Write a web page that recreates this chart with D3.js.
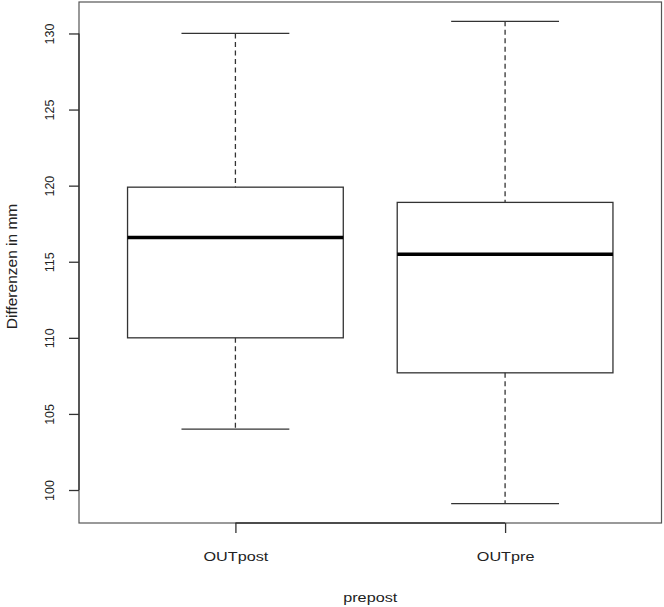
<!DOCTYPE html>
<html>
<head>
<meta charset="utf-8">
<script src="https://cdn.jsdelivr.net/npm/d3@7"></script>
<style>
  body { margin: 0; background: #fff; }
  text { font-family: "Liberation Sans", Arial, sans-serif; fill: #222; }
</style>
</head>
<body>
<div id="chart"></div>
<script>
// boxplot stats
const groups = ['OUTpost', 'OUTpre'];
const lowerWhisker = [104.0, 99.1];
const q1 = [110.0, 107.7];
const median = [116.6, 115.5];
const q3 = [119.9, 118.9];
const upperWhisker = [130.0, 130.8];
const yTicks = [100, 105, 110, 115, 120, 125, 130];

const W = 664, H = 607;
const frame = { left: 79, right: 661.5, top: 2, bottom: 523 };

// R style: 4% extension of the data range
const lo = d3.min(lowerWhisker), hi = d3.max(upperWhisker);
const ext = (hi - lo) * 0.04;

const y = d3.scaleLinear()
  .domain([lo - ext, hi + ext])
  .range([frame.bottom, frame.top]);

const x = d3.scaleLinear()
  .domain([0.5 - 0.08, groups.length + 0.5 + 0.08])
  .range([frame.left, frame.right]);

const svg = d3.select('#chart').append('svg')
  .attr('width', W)
  .attr('height', H);

const stroke = '#333';

// plot frame
svg.append('rect')
  .attr('x', frame.left)
  .attr('y', frame.top)
  .attr('width', frame.right - frame.left)
  .attr('height', frame.bottom - frame.top)
  .attr('fill', 'none')
  .attr('stroke', '#555')
  .attr('stroke-width', 1.2);

// boxes
const boxes = svg.selectAll('.box')
  .data(groups)
  .enter()
  .append('g')
  .attr('class', 'box');

const cx = (d, i) => x(i + 1);
const bw = x(1.4) - x(1);   // half box width
const cw = x(1.2) - x(1);   // half cap width

boxes.append('line')
  .attr('x1', cx).attr('x2', cx)
  .attr('y1', (d, i) => y(upperWhisker[i]))
  .attr('y2', (d, i) => y(q3[i]))
  .attr('stroke', stroke).attr('stroke-width', 1.3)
  .attr('stroke-dasharray', '5,3.5');

boxes.append('line')
  .attr('x1', cx).attr('x2', cx)
  .attr('y1', (d, i) => y(q1[i]))
  .attr('y2', (d, i) => y(lowerWhisker[i]))
  .attr('stroke', stroke).attr('stroke-width', 1.3)
  .attr('stroke-dasharray', '5,3.5');

[upperWhisker, lowerWhisker].forEach(arr => {
  boxes.append('line')
    .attr('x1', (d, i) => cx(d, i) - cw)
    .attr('x2', (d, i) => cx(d, i) + cw)
    .attr('y1', (d, i) => y(arr[i]))
    .attr('y2', (d, i) => y(arr[i]))
    .attr('stroke', stroke).attr('stroke-width', 1.3);
});

boxes.append('rect')
  .attr('x', (d, i) => cx(d, i) - bw)
  .attr('y', (d, i) => y(q3[i]))
  .attr('width', bw * 2)
  .attr('height', (d, i) => y(q1[i]) - y(q3[i]))
  .attr('fill', 'none')
  .attr('stroke', stroke)
  .attr('stroke-width', 1.3);

boxes.append('line')
  .attr('x1', (d, i) => cx(d, i) - bw)
  .attr('x2', (d, i) => cx(d, i) + bw)
  .attr('y1', (d, i) => y(median[i]))
  .attr('y2', (d, i) => y(median[i]))
  .attr('stroke', '#000')
  .attr('stroke-width', 3.5);

// y axis
const yAxis = svg.append('g')
  .attr('transform', `translate(${frame.left},0)`)
  .call(d3.axisLeft(y).tickValues(yTicks).tickSize(10).tickPadding(16).tickSizeOuter(0));
yAxis.select('.domain')
  .attr('d', `M0,${y(yTicks[0])}V${y(yTicks[yTicks.length - 1])}`)
  .attr('stroke', stroke).attr('stroke-width', 1.3);
yAxis.selectAll('.tick line').attr('stroke', stroke).attr('stroke-width', 1.3);
yAxis.selectAll('.tick text')
  .attr('font-size', 12.5)
  .attr('text-anchor', 'middle')
  .attr('x', 0)
  .attr('dy', 0)
  .attr('transform', 'translate(-25,0) rotate(-90)');

// x axis
const xAxis = svg.append('g')
  .attr('transform', `translate(0,${frame.bottom})`)
  .call(d3.axisBottom(x).tickValues(d3.range(1, groups.length + 1))
    .tickFormat(d => groups[d - 1]).tickSize(10).tickPadding(18).tickSizeOuter(0));
xAxis.select('.domain')
  .attr('d', `M${x(1)},0H${x(groups.length)}`)
  .attr('stroke', stroke).attr('stroke-width', 1.3);
xAxis.selectAll('.tick line').attr('stroke', stroke).attr('stroke-width', 1.3);
xAxis.selectAll('.tick text')
  .attr('font-size', 13.5)
  .attr('transform', 'scale(1.2,1)');

// axis titles
svg.append('text')
  .attr('x', (frame.left + frame.right) / 2)
  .attr('y', 602)
  .attr('text-anchor', 'middle')
  .attr('font-size', 13.5)
  .attr('transform', `translate(${-(frame.left + frame.right) / 2 * 0.2},0) scale(1.2,1)`)
  .text('prepost');

svg.append('text')
  .attr('transform', `translate(17,${(frame.top + frame.bottom) / 2 + 4}) rotate(-90)`)
  .attr('text-anchor', 'middle')
  .attr('font-size', 15.5)
  .text('Differenzen in mm');
</script>
</body>
</html>
